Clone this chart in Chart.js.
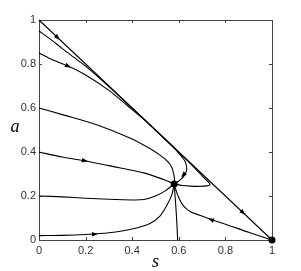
<!DOCTYPE html>
<html><head><meta charset="utf-8">
<script src="https://cdn.jsdelivr.net/npm/chart.js@4/dist/chart.umd.min.js"></script>
<style>html,body{margin:0;padding:0;background:#fff}</style>
</head><body>
<canvas id="c" width="301" height="271"></canvas>
<script>
// Axis ticks
const tickValues = [0, 0.2, 0.4, 0.6, 0.8, 1];
const tickLabels = ['0', '0.2', '0.4', '0.6', '0.8', '1'];
const xTitle = 's';
const yTitle = 'a';

// Trajectories (s = x, a = y)
const diagS = [0, 1];
const diagA = [1, 0];

const t002S = [0, 0.1, 0.2, 0.3, 0.4, 0.476, 0.52, 0.55, 0.57, 0.58];
const t002A = [0.02, 0.021, 0.025, 0.033, 0.05, 0.075, 0.11, 0.16, 0.205, 0.255];

const t02S = [0, 0.1, 0.2, 0.3, 0.4, 0.45, 0.5, 0.54, 0.58];
const t02A = [0.2, 0.196, 0.19, 0.185, 0.182, 0.184, 0.2, 0.222, 0.255];

const t04S = [0, 0.1, 0.2, 0.3, 0.35, 0.45, 0.54, 0.58];
const t04A = [0.4, 0.377, 0.359, 0.338, 0.327, 0.305, 0.273, 0.255];

const t06S = [0, 0.1, 0.25, 0.39, 0.476, 0.519, 0.554, 0.571, 0.579, 0.5815, 0.58];
const t06A = [0.6, 0.57, 0.523, 0.464, 0.416, 0.386, 0.355, 0.327, 0.295, 0.273, 0.255];

const t085S = [0, 0.06, 0.12, 0.2, 0.3, 0.38, 0.45, 0.52, 0.575, 0.605, 0.628, 0.634, 0.625, 0.605, 0.58];
const t085A = [0.85, 0.818, 0.793, 0.75, 0.68, 0.61, 0.548, 0.479, 0.423, 0.388, 0.355, 0.322, 0.295, 0.272, 0.255];

const t095S = [0, 0.05, 0.1, 0.15, 0.2, 0.3, 0.4, 0.5, 0.6, 0.66, 0.7, 0.725, 0.735, 0.72, 0.69, 0.65, 0.615, 0.58];
const t095A = [0.95, 0.912, 0.87, 0.83, 0.79, 0.697, 0.599, 0.4995, 0.398, 0.336, 0.292, 0.265, 0.252, 0.246, 0.244, 0.245, 0.248, 0.255];

const tRightS = [1, 0.9, 0.8, 0.738, 0.69, 0.648, 0.62, 0.603, 0.59, 0.58];
const tRightA = [0, 0.035, 0.072, 0.093, 0.112, 0.13, 0.155, 0.185, 0.22, 0.255];

const tBottomS = [0.595, 0.592, 0.588, 0.584, 0.58];
const tBottomA = [0, 0.07, 0.14, 0.2, 0.255];

// Equilibria
const eqS = [0.58, 1];
const eqA = [0.255, 0];

// Arrow heads: position and direction (data units)
const arrowS  = [0.08, 0.876, 0.125, 0.197, 0.24, 0.738, 0.619];
const arrowA  = [0.92, 0.124, 0.79, 0.36, 0.027, 0.093, 0.295];
const arrowDS = [1, 1, 1, 1, 1, -1, -1];
const arrowDA = [-1, -1, -0.54, -0.2, 0.05, 0.4, -1.15];

function pts(s, a) { return s.map((x, i) => ({x: x, y: a[i]})); }
function curve(s, a, tension) {
  return {data: pts(s, a), showLine: true, borderColor: '#000', borderWidth: 1.1,
          pointRadius: 0, tension: tension, fill: false, clip: false};
}

const datasets = [
  curve(diagS, diagA, 0),
  curve(t002S, t002A, 0.3),
  curve(t02S, t02A, 0.3),
  curve(t04S, t04A, 0.3),
  curve(t06S, t06A, 0.3),
  curve(t085S, t085A, 0.3),
  curve(t095S, t095A, 0.3),
  curve(tRightS, tRightA, 0.3),
  curve(tBottomS, tBottomA, 0.3),
  {data: pts(eqS, eqA), showLine: false, pointRadius: 3.5, pointBackgroundColor: '#000',
   pointBorderColor: '#000', pointBorderWidth: 0, clip: false}
];

const titleFontCss = 'italic 18px "Liberation Serif", "Times New Roman", serif';

const frame = {
  id: 'frame',
  beforeDatasetsDraw(chart) {
    const {ctx, chartArea: c, scales: {x, y}} = chart;
    ctx.save();
    ctx.strokeStyle = '#444';
    ctx.lineWidth = 1;
    ctx.strokeRect(Math.round(c.left) + 0.5, Math.round(c.top) + 0.5,
                   Math.round(c.right - c.left), Math.round(c.bottom - c.top));
    const L = 3;
    ctx.beginPath();
    tickValues.forEach(v => {
      const px = Math.round(x.getPixelForValue(v)) + 0.5;
      ctx.moveTo(px, c.bottom); ctx.lineTo(px, c.bottom - L);
      ctx.moveTo(px, c.top); ctx.lineTo(px, c.top + L);
      const py = Math.round(y.getPixelForValue(v)) + 0.5;
      ctx.moveTo(c.left, py); ctx.lineTo(c.left + L, py);
      ctx.moveTo(c.right, py); ctx.lineTo(c.right - L, py);
    });
    ctx.stroke();
    // axis titles (upright)
    ctx.fillStyle = '#000';
    ctx.font = titleFontCss;
    ctx.textAlign = 'center';
    ctx.textBaseline = 'middle';
    ctx.fillText(xTitle, (c.left + c.right) / 2, 262);
    ctx.fillText(yTitle, 15, (c.top + c.bottom) / 2 - 3);
    ctx.restore();
  },
  afterDatasetsDraw(chart) {
    const {ctx, scales: {x, y}} = chart;
    ctx.save();
    ctx.fillStyle = '#000';
    arrowS.forEach((s, i) => {
      const px = x.getPixelForValue(s), py = y.getPixelForValue(arrowA[i]);
      const qx = x.getPixelForValue(s + arrowDS[i] * 0.01);
      const qy = y.getPixelForValue(arrowA[i] + arrowDA[i] * 0.01);
      const ang = Math.atan2(qy - py, qx - px);
      const len = 6, hw = 2.3;
      ctx.beginPath();
      ctx.moveTo(px + Math.cos(ang) * len / 2, py + Math.sin(ang) * len / 2);
      const bx = px - Math.cos(ang) * len / 2, by = py - Math.sin(ang) * len / 2;
      ctx.lineTo(bx - Math.sin(ang) * hw, by + Math.cos(ang) * hw);
      ctx.lineTo(bx + Math.sin(ang) * hw, by - Math.cos(ang) * hw);
      ctx.closePath();
      ctx.fill();
    });
    ctx.restore();
  }
};

const tickFont = {family: '"Liberation Sans", Arial, sans-serif', size: 11};

new Chart(document.getElementById('c'), {
  type: 'scatter',
  data: {datasets},
  options: {
    responsive: false,
    animation: false,
    layout: {padding: {top: 20, right: 29, left: 0, bottom: 0}},
    plugins: {legend: {display: false}, tooltip: {enabled: false}},
    scales: {
      x: {
        type: 'linear', min: 0, max: 1,
        afterFit: s => { s.height = 31; },
        afterBuildTicks: s => { s.ticks = tickValues.map(v => ({value: v})); },
        ticks: {font: tickFont, color: '#333', padding: 4, maxRotation: 0,
                callback: (v) => tickLabels[tickValues.indexOf(v)]},
        grid: {display: false, drawTicks: false},
        border: {display: false},
        title: {display: false}
      },
      y: {
        type: 'linear', min: 0, max: 1,
        afterFit: s => { s.width = 39; },
        afterBuildTicks: s => { s.ticks = tickValues.map(v => ({value: v})); },
        ticks: {font: tickFont, color: '#333', padding: 3,
                callback: (v) => tickLabels[tickValues.indexOf(v)]},
        grid: {display: false, drawTicks: false},
        border: {display: false},
        title: {display: false}
      }
    }
  },
  plugins: [frame]
});
</script>
</body></html>
